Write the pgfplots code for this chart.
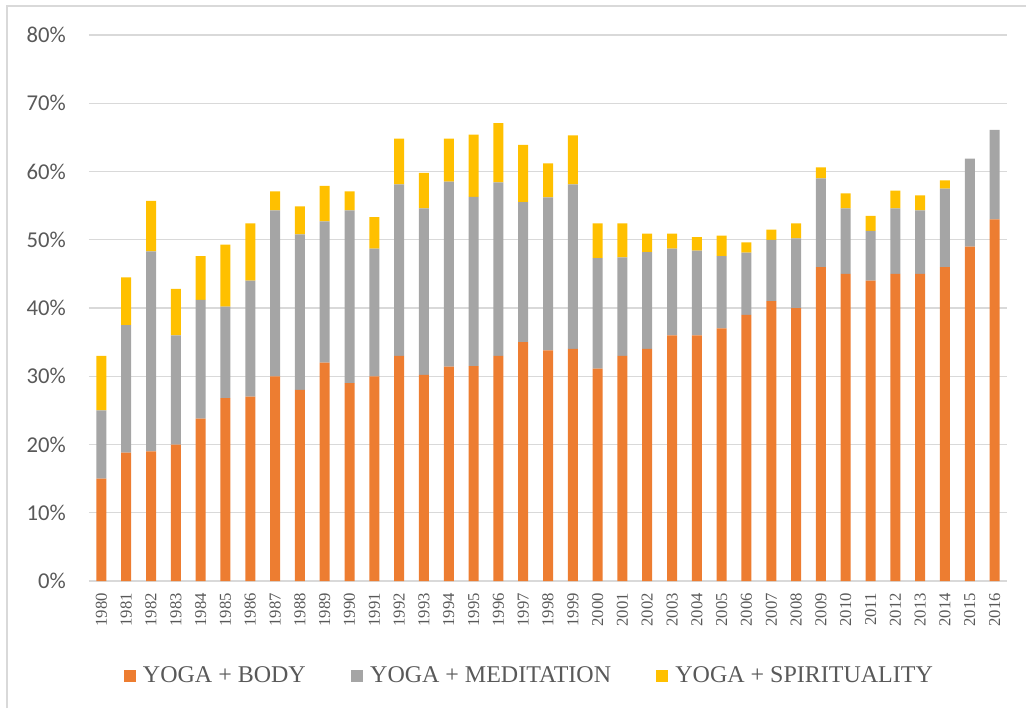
\documentclass[border=0pt]{standalone}
\usepackage{pgfplots}
\pgfplotsset{compat=1.18}
\usepackage{pgfplotstable}
\usepackage{fontspec}
\setmainfont{Liberation Serif}
\newfontfamily\carlito{Carlito}
\definecolor{cbody}{HTML}{ED7D31}
\definecolor{cmed}{HTML}{A5A5A5}
\definecolor{cspir}{HTML}{FFC000}
\definecolor{ctext}{HTML}{595959}
\definecolor{cgrid}{HTML}{D9D9D9}

\pgfplotstableread{
x body med spir
0 15 10 8
1 18.8 18.7 7.0
2 19 29.3 7.4
3 20 16 6.8
4 23.8 17.4 6.4
5 26.8 13.4 9.1
6 27 17 8.4
7 30 24.3 2.8
8 28 22.8 4.1
9 32 20.7 5.2
10 29 25.3 2.8
11 30 18.7 4.6
12 33 25.1 6.7
13 30.2 24.4 5.2
14 31.4 27.1 6.3
15 31.5 24.8 9.1
16 33 25.4 8.7
17 35 20.5 8.4
18 33.8 22.4 5.0
19 34 24.1 7.2
20 31.1 16.2 5.1
21 33 14.4 5.0
22 34 14.2 2.7
23 36 12.7 2.2
24 36 12.4 2.0
25 37 10.6 3.0
26 39 9.1 1.5
27 41 9.0 1.5
28 40 10.2 2.2
29 46 13.0 1.6
30 45 9.6 2.2
31 44 7.3 2.2
32 45 9.6 2.6
33 45 9.3 2.2
34 46 11.5 1.2
35 49 12.9 0
36 53 13.1 0
}\data

\begin{document}
\begin{tikzpicture}
\path[use as bounding box] (0pt,0pt) rectangle (769.5pt,531pt);
\draw[cgrid, line width=1pt] (5.25pt,0pt) -- (5.25pt,526.5pt) -- (769.5pt,526.5pt);
\begin{axis}[
  at={(66.75pt,95.25pt)}, anchor=south west,
  scale only axis, width=688.5pt, height=409.5pt,
  ybar stacked, bar width=7.5pt,
  xmin=-0.5, xmax=36.5, ymin=0, ymax=80,
  axis line style={draw=none},
  tick style={draw=none},
  ymajorgrids, grid style={cgrid, line width=1pt},
  ytick={0,10,...,80},
  yticklabels={0\%,10\%,20\%,30\%,40\%,50\%,60\%,70\%,80\%},
  yticklabel style={text=ctext, font=\carlito\fontsize{17}{17}\selectfont, inner sep=0pt, anchor=east, xshift=-17.25pt},
  xtick={0,...,36},
  xticklabels={1980,1981,1982,1983,1984,1985,1986,1987,1988,1989,1990,1991,1992,1993,1994,1995,1996,1997,1998,1999,2000,2001,2002,2003,2004,2005,2006,2007,2008,2009,2010,2011,2012,2013,2014,2015,2016},
  xticklabel style={text=ctext, font=\fontsize{12.5}{12.5}\selectfont, rotate=90, anchor=east, inner sep=0pt, xshift=-9pt},
  legend columns=3,
  legend image code/.code={\fill[#1] (0pt,-4.5pt) rectangle (9pt,4.5pt); \path (14.25pt,0pt);},
  legend style={draw=none, fill=none, at={(0.0381,-0.174)}, anchor=west, inner sep=0pt, outer sep=0pt,
    font=\fontsize{18}{20}\selectfont, text=ctext,
    nodes={inner sep=0pt},
    /tikz/every even column/.append style={column sep=34pt}},
]
\addplot[fill=cbody, draw=none] table[x=x, y=body] {\data};
\addplot[fill=cmed, draw=none] table[x=x, y=med] {\data};
\addplot[fill=cspir, draw=none] table[x=x, y=spir] {\data};
\legend{YOGA + BODY, YOGA + MEDITATION, YOGA + SPIRITUALITY}
\end{axis}
\end{tikzpicture}
\end{document}
